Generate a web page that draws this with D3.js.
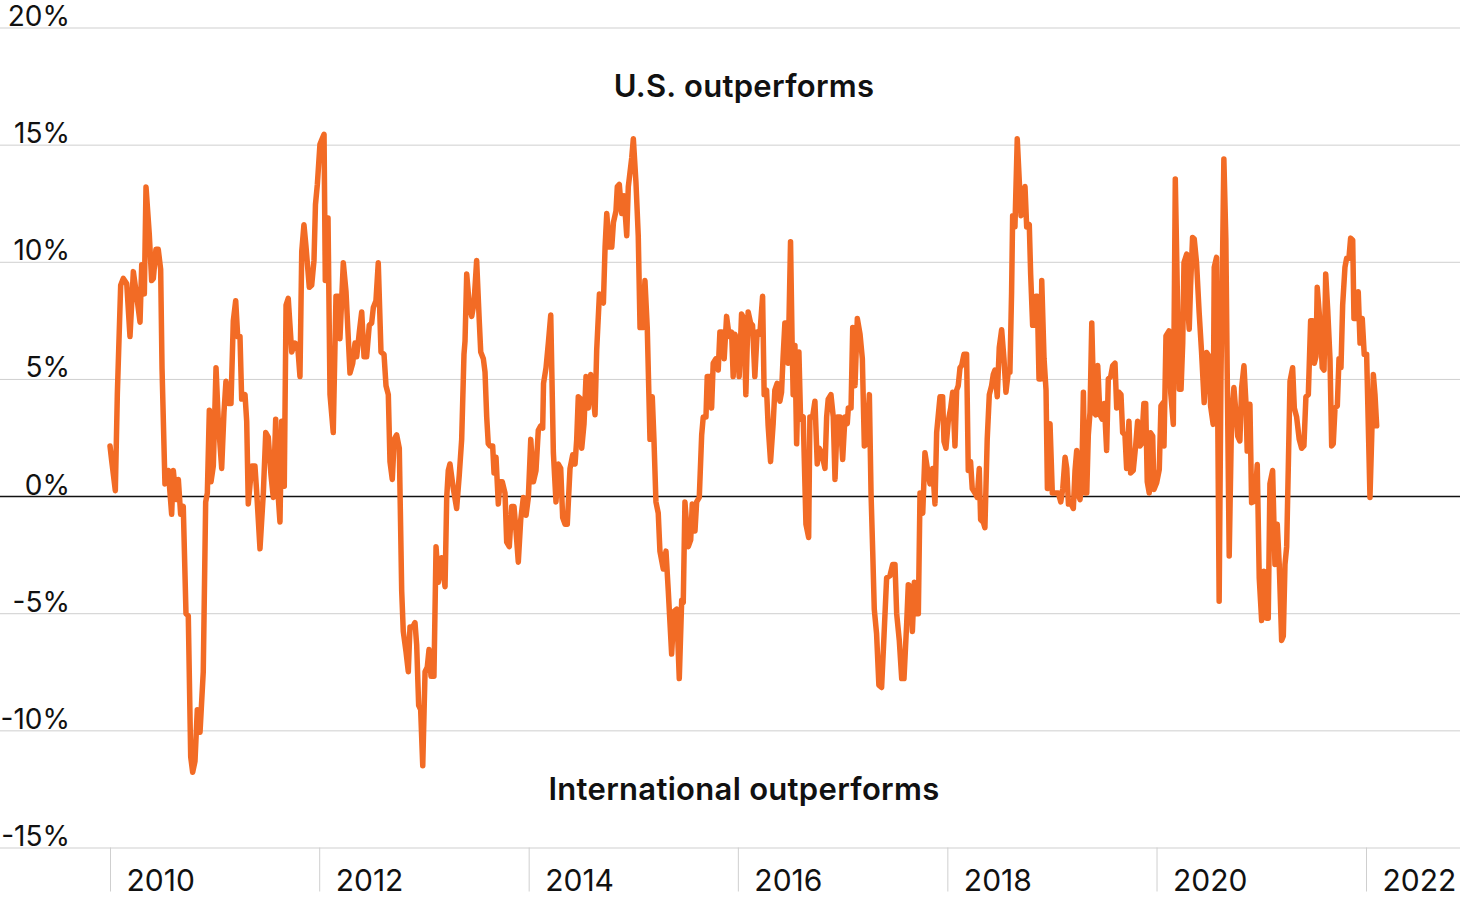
<!DOCTYPE html>
<html>
<head>
<meta charset="utf-8">
<script src="https://cdn.jsdelivr.net/npm/d3@7"></script>
<style>
  html, body { margin: 0; padding: 0; background: #fff; }
  svg { display: block; }
  text { font-family: Inter, "Noto Sans", sans-serif; fill: #111; }
</style>
</head>
<body>
<div id="chart"></div>
<script>
// Decimal-year dates of each observation
const dates = [
2010.000,2010.016,2010.051,2010.070,2010.102,2010.127,2010.160,2010.191,2010.223,2010.255,
2010.287,2010.303,2010.328,2010.344,2010.375,2010.398,2010.414,2010.439,2010.461,2010.484,
2010.497,2010.525,2010.557,2010.589,2010.605,2010.631,2010.653,2010.675,2010.700,2010.726,
2010.748,2010.771,2010.790,2010.812,2010.834,2010.860,2010.891,2010.914,2010.930,2010.949,
2010.965,2010.987,2011.013,2011.035,2011.067,2011.089,2011.108,2011.130,2011.156,2011.178,
2011.201,2011.220,2011.242,2011.258,2011.290,2011.306,2011.321,2011.354,2011.385,2011.402,
2011.433,2011.465,2011.488,2011.512,2011.538,2011.560,2011.583,2011.602,2011.624,2011.640,
2011.665,2011.682,2011.703,2011.736,2011.767,2011.793,2011.815,2011.832,2011.853,2011.873,
2011.904,2011.927,2011.949,2011.963,2011.981,2012.006,2012.023,2012.045,2012.057,2012.083,
2012.102,2012.133,2012.159,2012.181,2012.197,2012.229,2012.255,2012.293,2012.319,2012.341,
2012.357,2012.382,2012.405,2012.427,2012.452,2012.477,2012.500,2012.516,2012.541,2012.563,
2012.589,2012.618,2012.637,2012.659,2012.675,2012.697,2012.716,2012.739,2012.764,2012.787,
2012.802,2012.828,2012.850,2012.866,2012.892,2012.914,2012.930,2012.949,2012.968,2012.988,
2013.010,2013.031,2013.048,2013.067,2013.095,2013.115,2013.137,2013.169,2013.201,2013.217,
2013.232,2013.248,2013.280,2013.312,2013.337,2013.360,2013.382,2013.392,2013.408,2013.433,
2013.456,2013.478,2013.503,2013.528,2013.542,2013.567,2013.583,2013.599,2013.614,2013.631,
2013.656,2013.669,2013.688,2013.710,2013.726,2013.748,2013.774,2013.790,2013.815,2013.838,
2013.860,2013.879,2013.901,2013.924,2013.949,2013.975,2013.997,2014.020,2014.045,2014.070,
2014.092,2014.115,2014.134,2014.142,2014.166,2014.188,2014.211,2014.236,2014.261,2014.283,
2014.306,2014.325,2014.347,2014.369,2014.395,2014.421,2014.443,2014.459,2014.474,2014.497,
2014.507,2014.529,2014.548,2014.570,2014.593,2014.612,2014.634,2014.650,2014.676,2014.698,
2014.714,2014.730,2014.746,2014.771,2014.794,2014.810,2014.834,2014.847,2014.866,2014.889,
2014.911,2014.937,2014.952,2014.985,2015.000,2015.025,2015.047,2015.064,2015.089,2015.111,
2015.133,2015.159,2015.181,2015.197,2015.216,2015.238,2015.254,2015.286,2015.312,2015.334,
2015.366,2015.388,2015.414,2015.439,2015.462,2015.477,2015.493,2015.525,2015.548,2015.563,
2015.589,2015.605,2015.630,2015.653,2015.668,2015.694,2015.706,2015.732,2015.748,2015.763,
2015.789,2015.811,2015.827,2015.849,2015.868,2015.891,2015.916,2015.939,2015.954,2015.970,
2015.992,2016.011,2016.034,2016.056,2016.075,2016.097,2016.120,2016.139,2016.161,2016.183,
2016.209,2016.235,2016.250,2016.273,2016.288,2016.311,2016.336,2016.352,2016.374,2016.400,
2016.416,2016.431,2016.448,2016.470,2016.479,2016.502,2016.517,2016.527,2016.544,2016.560,
2016.582,2016.598,2016.623,2016.649,2016.675,2016.687,2016.713,2016.735,2016.757,2016.776,
2016.799,2016.831,2016.847,2016.862,2016.888,2016.910,2016.927,2016.949,2016.975,2017.000,
2017.022,2017.044,2017.054,2017.080,2017.096,2017.118,2017.140,2017.166,2017.188,2017.207,
2017.230,2017.255,2017.271,2017.287,2017.302,2017.324,2017.346,2017.372,2017.395,2017.420,
2017.452,2017.478,2017.500,2017.516,2017.541,2017.564,2017.586,2017.612,2017.627,2017.650,
2017.666,2017.685,2017.701,2017.723,2017.739,2017.765,2017.786,2017.812,2017.834,2017.860,
2017.882,2017.898,2017.930,2017.955,2017.968,2017.987,2018.009,2018.032,2018.051,2018.073,
2018.089,2018.104,2018.121,2018.137,2018.159,2018.184,2018.200,2018.222,2018.238,2018.264,
2018.286,2018.305,2018.318,2018.343,2018.359,2018.381,2018.401,2018.423,2018.439,2018.455,
2018.477,2018.496,2018.519,2018.541,2018.560,2018.582,2018.598,2018.614,2018.624,2018.646,
2018.668,2018.687,2018.704,2018.720,2018.742,2018.758,2018.783,2018.796,2018.815,2018.831,
2018.847,2018.859,2018.876,2018.892,2018.902,2018.924,2018.943,2018.956,2018.981,2019.003,
2019.029,2019.061,2019.084,2019.103,2019.125,2019.141,2019.157,2019.182,2019.204,2019.220,
2019.236,2019.252,2019.268,2019.284,2019.300,2019.316,2019.332,2019.347,2019.363,2019.380,
2019.401,2019.418,2019.437,2019.458,2019.480,2019.500,2019.522,2019.538,2019.561,2019.580,
2019.602,2019.618,2019.640,2019.659,2019.675,2019.697,2019.713,2019.735,2019.751,2019.776,
2019.799,2019.818,2019.840,2019.856,2019.878,2019.895,2019.910,2019.929,2019.941,2019.962,
2019.974,2020.000,2020.025,2020.041,2020.063,2020.070,2020.089,2020.118,2020.134,2020.159,
2020.178,2020.201,2020.216,2020.233,2020.249,2020.261,2020.287,2020.296,2020.311,2020.324,
2020.343,2020.359,2020.381,2020.406,2020.429,2020.454,2020.477,2020.499,2020.515,2020.540,
2020.550,2020.572,2020.597,2020.614,2020.642,2020.661,2020.674,2020.693,2020.716,2020.738,
2020.757,2020.774,2020.795,2020.812,2020.834,2020.853,2020.865,2020.891,2020.907,2020.939,
2020.961,2020.980,2021.003,2021.025,2021.051,2021.066,2021.082,2021.108,2021.130,2021.152,
2021.171,2021.194,2021.210,2021.226,2021.242,2021.257,2021.274,2021.299,2021.315,2021.337,
2021.362,2021.385,2021.407,2021.426,2021.449,2021.471,2021.490,2021.506,2021.522,2021.534,
2021.554,2021.567,2021.582,2021.599,2021.615,2021.634,2021.656,2021.672,2021.687,2021.704,
2021.726,2021.742,2021.761,2021.777,2021.799,2021.815,2021.837,2021.853,2021.873,2021.885,
2021.911,2021.926,2021.943,2021.964,2021.983,2022.006,2022.022,2022.038,2022.054,2022.070,
2022.086,2022.102
];

// Relative return spread, U.S. minus international (%)
const spread = [
2.14,1.51,0.23,4.33,9.0,9.29,9.06,6.81,9.58,8.53,
7.42,9.87,8.63,13.19,11.2,9.2,9.29,10.53,10.53,9.68,
5.48,0.52,1.09,-0.78,1.09,-0.15,0.71,-0.78,-0.44,-5.02,
-5.11,-11.13,-11.79,-11.32,-9.12,-10.08,-7.5,-0.25,0.13,3.66,
0.61,1.28,5.48,3.19,1.18,3.57,4.9,3.95,3.95,7.48,
8.34,6.81,6.81,4.14,4.33,3.19,-0.34,1.28,1.28,0.13,
-2.25,0.13,2.71,2.52,0.9,-0.06,3.28,0.32,-1.11,3.19,
0.42,8.15,8.44,6.15,6.53,6.43,5.1,10.44,11.58,10.63,
8.91,9.0,10.06,12.44,13.3,15.02,15.21,15.44,9.2,11.87,
4.33,2.71,8.53,8.53,6.72,9.96,8.72,5.25,5.67,6.53,
5.95,7.0,7.86,5.95,5.95,7.29,7.39,8.05,8.34,9.96,
6.15,6.05,4.71,4.33,1.47,0.71,2.42,2.61,2.04,-4.06,
-5.78,-6.64,-7.5,-5.59,-5.59,-5.4,-6.35,-8.93,-9.12,-11.51,
-7.5,-7.31,-6.55,-7.69,-7.69,-2.16,-3.68,-2.63,-3.87,-0.06,
1.09,1.37,0.32,-0.53,0.9,2.42,6.05,6.62,9.48,8.15,
7.67,8.24,10.06,7.48,6.15,5.86,5.29,3.38,2.23,2.14,
2.14,0.99,1.66,-0.34,0.61,0.61,0.13,-1.97,-2.16,-0.44,
-0.44,-1.49,-2.82,-1.01,-0.06,-0.82,-0.06,2.42,0.61,1.09,
2.81,3.0,2.9,4.81,5.48,6.53,7.73,1.85,-0.25,1.37,
1.18,-0.92,-1.2,-1.2,1.18,1.76,1.37,2.42,4.24,4.14,
2.04,3.09,5.1,3.76,5.19,4.52,3.47,6.24,8.63,8.34,
8.24,10.63,12.06,10.63,10.63,11.68,12.16,13.21,13.3,12.06,
12.82,11.11,13.21,14.45,15.25,13.4,11.11,7.19,7.19,9.2,
7.19,2.42,4.24,2.42,-0.25,-0.73,-2.35,-3.11,-2.35,-4.06,
-6.74,-4.92,-4.83,-7.79,-4.45,-4.54,-0.25,-2.16,-1.87,-0.34,
-1.49,-0.25,-0.06,2.61,3.38,3.38,5.1,5.1,3.76,5.67,
5.86,5.38,7.0,7.0,5.86,7.67,6.81,7.0,5.1,6.91,
6.62,5.1,7.77,7.58,4.33,7.86,7.39,7.29,5.1,7.0,
6.91,8.53,4.33,4.52,3.0,1.47,3.09,4.52,4.81,4.05,
4.43,5.95,7.39,7.39,5.67,10.86,6.53,4.33,6.43,2.23,
6.15,3.28,3.38,-1.2,-1.77,3.38,3.38,4.05,1.37,2.04,
1.85,1.18,3.38,4.14,4.33,3.38,0.71,3.38,3.38,1.56,
3.38,3.09,3.76,3.76,7.19,4.71,7.58,6.91,5.86,2.14,
2.23,4.33,0.13,-2.35,-4.83,-5.88,-8.07,-8.17,-5.97,-3.49,
-3.4,-2.92,-2.92,-5.02,-6.16,-7.79,-7.79,-5.4,-3.78,-3.87,
-5.78,-3.68,-5.02,-5.02,0.13,-0.73,1.85,1.09,0.52,1.18,
-0.34,2.71,4.24,4.24,2.33,2.04,3.19,3.76,4.43,2.14,
4.52,4.71,5.48,5.57,6.05,6.05,1.09,1.47,0.32,0.13,
-0.06,1.18,-1.01,-1.11,-1.35,2.42,4.33,4.71,5.19,5.38,
4.24,6.34,7.1,5.86,4.43,5.29,5.29,8.72,11.97,11.49,
15.25,13.49,11.97,12.06,13.21,11.49,11.58,9.48,7.29,7.29,
8.53,8.53,5.0,5.0,9.2,5.86,4.52,0.32,3.09,0.13,
0.13,0.13,-0.25,0.32,1.66,1.18,-0.34,-0.34,-0.53,1.09,
1.95,0.04,-0.15,0.71,4.43,0.13,0.13,2.61,3.57,7.39,
3.57,3.47,5.57,3.47,3.28,3.95,1.95,5.0,5.1,5.57,
5.67,3.76,4.43,4.33,2.71,2.61,1.18,3.19,0.99,1.09,
2.14,3.19,2.14,2.23,3.95,3.95,0.61,0.13,2.7,2.56,
0.28,0.57,1.14,3.85,3.99,2.14,6.84,7.05,4.42,3.06,
13.53,7.83,4.56,4.56,6.55,9.97,10.33,8.12,7.12,8.97,
11.04,10.97,9.97,7.83,6.13,3.99,6.13,5.98,3.85,3.06,
9.76,10.19,-4.49,4.99,14.39,10.97,5.27,-2.56,3.42,4.63,
3.56,2.56,2.35,4.63,5.56,3.99,1.92,3.92,-0.28,-0.21,
1.35,-3.5,-5.31,-3.21,-5.21,-5.21,0.52,1.09,-2.92,-1.2,
-2.92,-6.16,-5.97,-2.92,-2.16,1.09,4.9,5.48,3.76,3.38,
2.42,2.04,2.14,4.24,4.33,7.48,7.48,5.67,5.95,8.91,
7.77,6.81,5.48,5.38,9.48,7.96,5.86,2.14,2.23,3.76,
3.85,5.86,5.48,8.15,9.77,10.15,10.15,11.01,10.92,7.58,
7.58,8.72,6.53,7.58,6.05,6.05,3.0,-0.06,2.42,5.19,
4.33,3.0
];

const yTickValues = [-15, -10, -5, 0, 5, 10, 15, 20];
const yearTicks = [2010, 2012, 2014, 2016, 2018, 2020, 2022];
const annotations = ["U.S. outperforms", "International outperforms"];

const W = 1460, H = 900;
const t0 = new Date(2010, 0, 1), t1 = new Date(2022, 0, 1);
const msPerYear = (t1 - t0) / 12;
const toDate = yr => new Date(+t0 + (yr - 2010) * msPerYear);

const x = d3.scaleTime().domain([t0, t1]).range([110, 1366]);
const y = d3.scaleLinear().domain([-15, 20]).range([847.5, 27.5]);

const n = Math.min(dates.length, spread.length);
const data = d3.range(n).map(i => ({ date: toDate(dates[i]), value: spread[i] }));

const svg = d3.select("#chart").append("svg")
  .attr("width", W).attr("height", H).attr("viewBox", `0 0 ${W} ${H}`);

svg.append("rect").attr("width", W).attr("height", H).attr("fill", "#fff");

// Horizontal gridlines
const yAxis = d3.axisRight(y).tickValues(yTickValues).tickSize(W).tickFormat("");
const gy = svg.append("g").call(yAxis);
gy.select(".domain").remove();
gy.selectAll(".tick line")
  .attr("stroke", d => d === 0 ? "#111" : "#cfcfcf")
  .attr("stroke-width", d => d === 0 ? 1.6 : 1);
gy.selectAll(".tick").filter(d => d === 0).raise();

// Y labels (right-aligned, sitting on top of the gridline)
svg.append("g").selectAll("text")
  .data(yTickValues)
  .join("text")
  .attr("x", 70)
  .attr("y", d => y(d) - 1.5)
  .attr("text-anchor", "end")
  .attr("font-size", 28)
  .attr("font-weight", 400)
  .text(d => d + "%");

// X axis: year separators with labels to the right
const xAxis = d3.axisBottom(x)
  .tickValues(yearTicks.map(yv => new Date(yv, 0, 1)))
  .tickSize(44)
  .tickFormat(d3.timeFormat("%Y"));
const gx = svg.append("g").attr("transform", `translate(0,${y(-15)})`).call(xAxis);
gx.select(".domain").remove();
gx.selectAll(".tick line").attr("stroke", "#cfcfcf").attr("stroke-width", 1);
gx.selectAll(".tick text")
  .attr("x", 16).attr("y", 43).attr("dy", 0)
  .attr("text-anchor", "start")
  .attr("font-size", 30)
  .attr("font-family", "Inter, 'Noto Sans', sans-serif")
  .attr("fill", "#111");

// Line
const line = d3.line().x(d => x(d.date)).y(d => y(d.value));
svg.append("path")
  .datum(data)
  .attr("fill", "none")
  .attr("stroke", "#F26B25")
  .attr("stroke-width", 5.5)
  .attr("stroke-linejoin", "round")
  .attr("stroke-linecap", "round")
  .attr("d", line);

// Annotations
svg.append("text")
  .attr("x", 744).attr("y", 97)
  .attr("text-anchor", "middle")
  .attr("font-size", 31).attr("font-weight", 600)
  .attr("letter-spacing", 0.3)
  .text(annotations[0]);
svg.append("text")
  .attr("x", 744).attr("y", 800)
  .attr("text-anchor", "middle")
  .attr("font-size", 31).attr("font-weight", 600)
  .attr("letter-spacing", 0.3)
  .text(annotations[1]);
</script>
</body>
</html>
